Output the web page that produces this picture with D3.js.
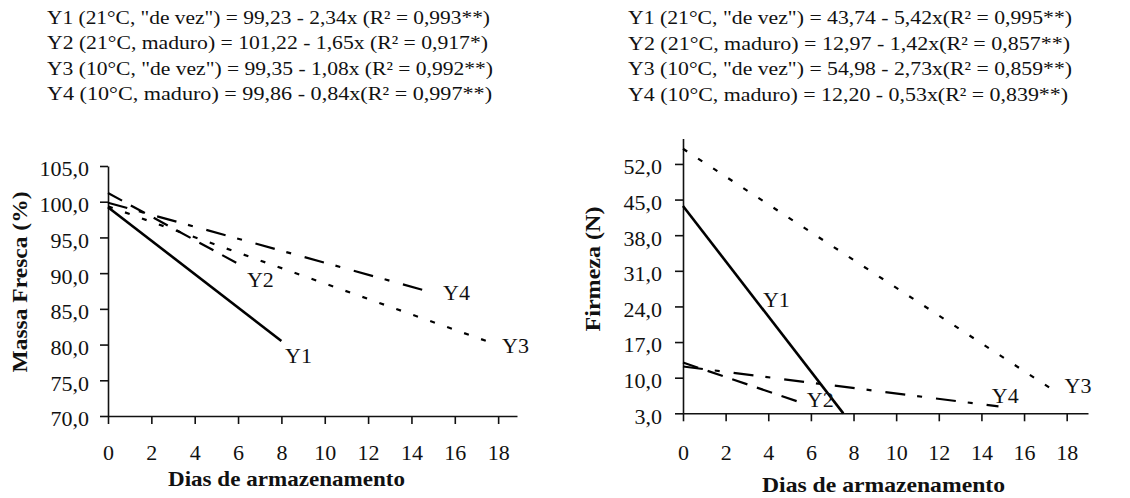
<!DOCTYPE html>
<html>
<head>
<meta charset="utf-8">
<script src="https://cdn.jsdelivr.net/npm/d3@7"></script>
<style>
  body { margin: 0; background: #fff; }
  svg text { font-family: "Liberation Serif", "DejaVu Serif", serif; fill: #111; }
</style>
</head>
<body>
<svg id="chart" width="1130" height="498"></svg>
<script>
// series names and regression fits
const seriesNames = ["Y1", "Y2", "Y3", "Y4"];
const dayTicks = [0, 2, 4, 6, 8, 10, 12, 14, 16, 18];

const massaIntercept = [99.23, 101.22, 99.35, 99.86];
const massaSlope = [-2.34, -1.65, -1.08, -0.84];
const massaLastDay = [8, 6, 17.5, 14.5];
const massaTicks = [70, 75, 80, 85, 90, 95, 100, 105];
const massaLabelDay = [8.17, 6.41, 18.18, 15.46];
const massaLabelValue = [77.4, 88.05, 78.8, 86.23];
const massaEquations = [
    'Y1 (21°C, "de vez") = 99,23 - 2,34x (R² = 0,993**)',
    'Y2 (21°C, maduro) = 101,22 - 1,65x (R² = 0,917*)',
    'Y3 (10°C, "de vez") = 99,35 - 1,08x (R² = 0,992**)',
    'Y4 (10°C, maduro) = 99,86 - 0,84x(R² = 0,997**)'
];

const firmezaIntercept = [43.74, 12.97, 54.98, 12.20];
const firmezaSlope = [-5.42, -1.42, -2.73, -0.53];
const firmezaLastDay = [7.52, 5.6, 17.6, 14.8];
const firmezaTicks = [3, 10, 17, 24, 31, 38, 45, 52];
const firmezaLabelDay = [3.75, 5.81, 17.9, 14.49];
const firmezaLabelValue = [23.9, 4.24, 7.0, 5.02];
const firmezaEquations = [
    'Y1 (21°C, "de vez") = 43,74 - 5,42x(R² = 0,995**)',
    'Y2 (21°C, maduro) = 12,97 - 1,42x(R² = 0,857**)',
    'Y3 (10°C, "de vez") = 54,98 - 2,73x(R² = 0,859**)',
    'Y4 (10°C, maduro) = 12,20 - 0,53x(R² = 0,839**)'
];

// line styles per series
const dashes = [null, "16,10", "5,13", "20,12,5,14"];
const widths = [2.6, 2.2, 2.2, 2.2];

const serif = '"Liberation Serif", "DejaVu Serif", serif';
const svg = d3.select("#chart");

function fmt(v) {
    return d3.format(".1f")(v).replace(".", ",");
}

function drawPanel(cfg) {
    const g = svg.append("g");

    const x = d3.scaleLinear().domain(cfg.xDomain).range(cfg.xRange);
    const y = d3.scaleLinear().domain(cfg.yDomain).range(cfg.yRange);

    // equations above the plot
    g.selectAll(".eq")
        .data(cfg.equations)
        .enter()
        .append("text")
        .attr("class", "eq")
        .attr("x", cfg.eqX)
        .attr("y", (d, i) => cfg.eqY + i * 25.5)
        .attr("textLength", (d, i) => cfg.eqWidths[i])
        .attr("lengthAdjust", "spacingAndGlyphs")
        .style("font-family", serif)
        .style("font-size", "19px")
        .text(d => d);

    const yAxis = g.append("g")
        .attr("transform", `translate(${cfg.xRange[0]},0)`)
        .call(d3.axisLeft(y).tickValues(cfg.yTicks).tickFormat(fmt)
            .tickSize(8).tickSizeOuter(0).tickPadding(cfg.yPad));
    yAxis.attr("font-family", null);
    yAxis.selectAll("text")
        .attr("dy", "0.45em")
        .style("font-size", "22px")
        .style("font-family", serif);

    const xAxis = g.append("g")
        .attr("transform", `translate(0,${cfg.yRange[0]})`)
        .call(d3.axisBottom(x).tickValues(dayTicks).tickFormat(d3.format("d"))
            .tickSize(8).tickSizeOuter(0));
    xAxis.attr("font-family", null);
    xAxis.selectAll("text")
        .attr("dy", null)
        .attr("y", cfg.xLabelY)
        .style("font-size", "22px")
        .style("font-family", serif);

    g.selectAll(".domain, .tick line")
        .attr("stroke", "#111")
        .attr("stroke-width", 1.6);

    // regression lines
    const line = d3.line().x(d => x(d[0])).y(d => y(d[1]));
    seriesNames.forEach((name, i) => {
        const pts = [
            [0, cfg.intercept[i]],
            [cfg.lastDay[i], cfg.intercept[i] + cfg.slope[i] * cfg.lastDay[i]]
        ];
        g.append("path")
            .datum(pts)
            .attr("fill", "none")
            .attr("stroke", "#000")
            .attr("stroke-width", widths[i])
            .attr("stroke-dasharray", dashes[i])
            .attr("d", line);
    });

    g.selectAll(".lbl")
        .data(seriesNames)
        .enter()
        .append("text")
        .attr("class", "lbl")
        .attr("x", (d, i) => x(cfg.labelDay[i]))
        .attr("y", (d, i) => y(cfg.labelValue[i]))
        .style("font-family", serif)
        .style("font-size", "22px")
        .text(d => d);

    // axis titles
    g.append("text")
        .attr("x", cfg.xTitle[0])
        .attr("y", cfg.xTitle[1])
        .attr("textLength", cfg.xTitle[2])
        .attr("lengthAdjust", "spacingAndGlyphs")
        .style("font-family", serif)
        .style("font-size", "22px")
        .style("font-weight", "bold")
        .text("Dias de armazenamento");

    g.append("text")
        .attr("transform", `translate(${cfg.yTitle[0]},${cfg.yTitle[1]}) rotate(-90)`)
        .attr("text-anchor", "middle")
        .attr("textLength", cfg.yTitle[2])
        .attr("lengthAdjust", "spacingAndGlyphs")
        .style("font-family", serif)
        .style("font-size", "22px")
        .style("font-weight", "bold")
        .text(cfg.yTitleText);
}

drawPanel({
    xDomain: [0, 18.87], xRange: [108, 517],
    yDomain: [70, 105], yRange: [416, 166],
    yTicks: massaTicks, yPad: 11, xLabelY: 44,
    intercept: massaIntercept, slope: massaSlope, lastDay: massaLastDay,
    labelDay: massaLabelDay, labelValue: massaLabelValue,
    equations: massaEquations, eqX: 47, eqY: 23.5, eqWidths: [443, 441, 446, 445],
    xTitle: [168, 486, 237],
    yTitle: [27, 282, 181], yTitleText: "Massa Fresca (%)"
});

drawPanel({
    xDomain: [0, 19], xRange: [683, 1088],
    yDomain: [3, 57], yRange: [413.3, 138.5],
    yTicks: firmezaTicks, yPad: 13, xLabelY: 47,
    intercept: firmezaIntercept, slope: firmezaSlope, lastDay: firmezaLastDay,
    labelDay: firmezaLabelDay, labelValue: firmezaLabelValue,
    equations: firmezaEquations, eqX: 628, eqY: 24, eqWidths: [444, 442, 444, 440],
    xTitle: [762, 492, 243],
    yTitle: [600, 269, 125], yTitleText: "Firmeza (N)"
});
</script>
</body>
</html>
